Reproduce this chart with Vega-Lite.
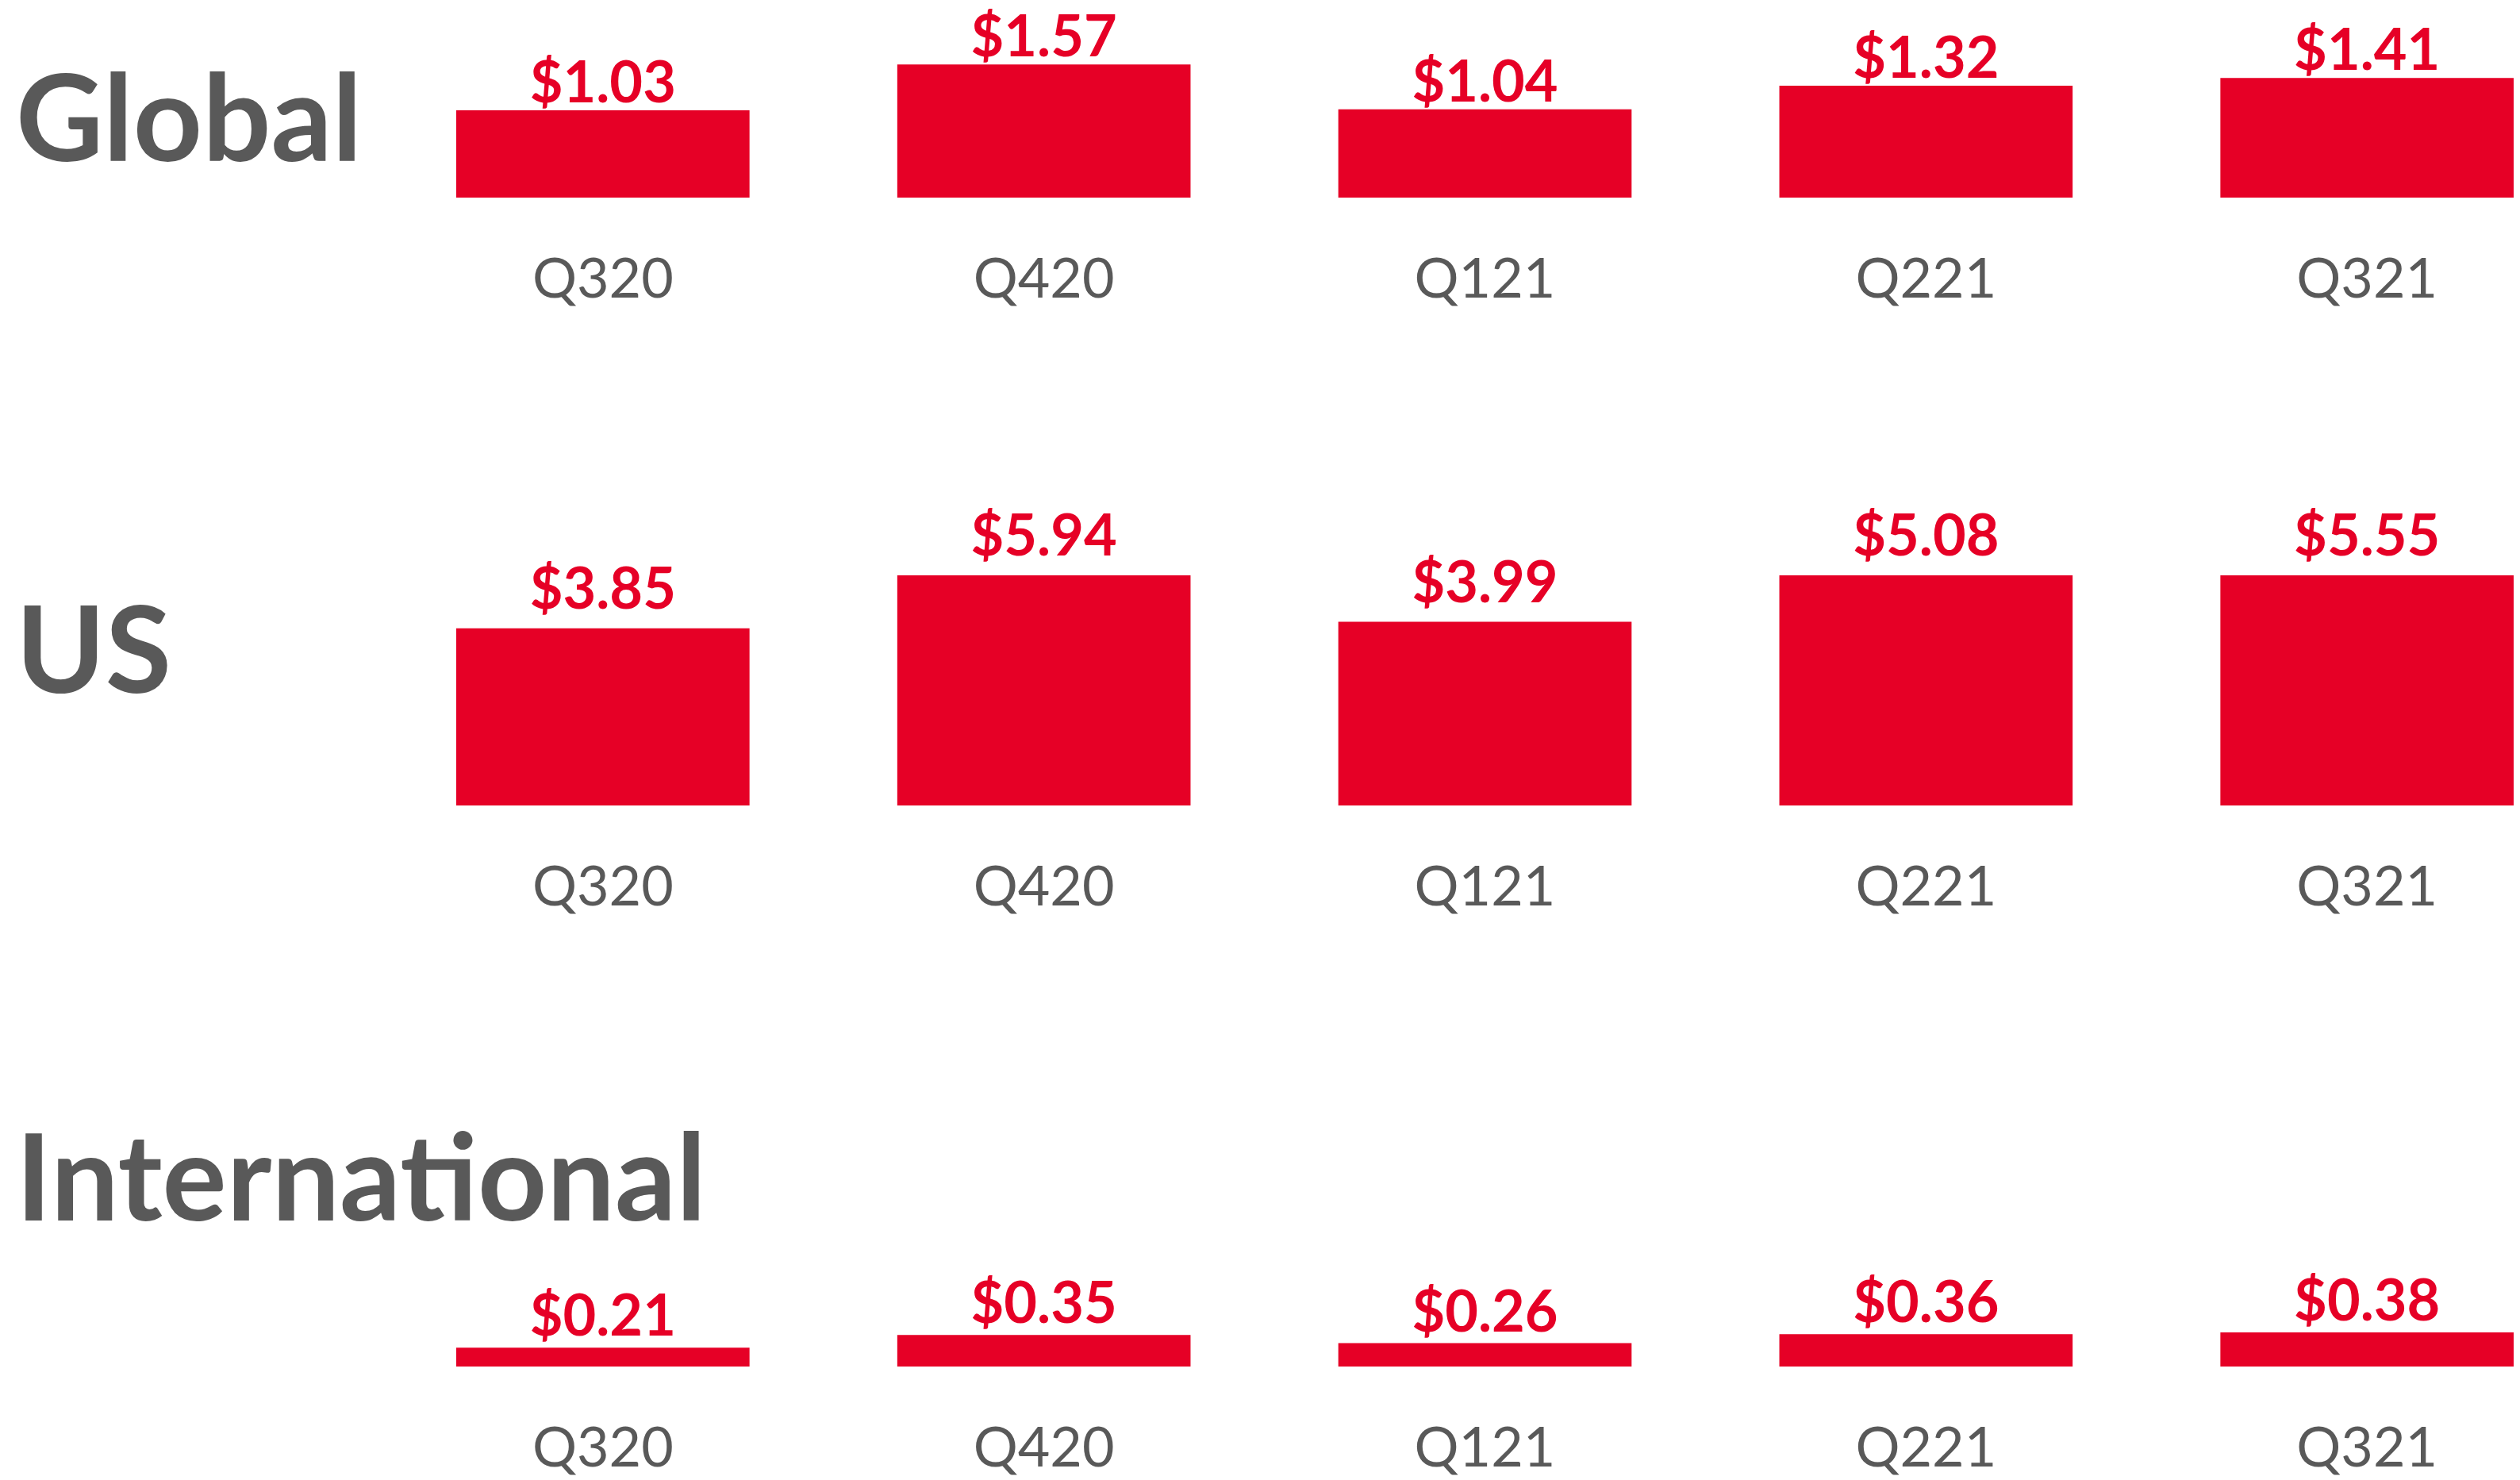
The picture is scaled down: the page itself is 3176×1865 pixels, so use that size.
{
  "$schema": "https://vega.github.io/schema/vega-lite/v6.json",
  "background": "white",
  "padding": {"left": 20, "top": 0, "right": 8, "bottom": 0},
  "bounds": "flush",
  "spacing": 476,
  "config": {
    "view": {"stroke": null},
    "font": "Lato",
    "bar": {"color": "#E60026"},
    "text": {"color": "#E60026", "font": "Lato", "fontWeight": "bold", "fontSize": 72, "baseline": "alphabetic", "align": "center"},
    "axisX": {"domain": false, "ticks": false, "grid": false, "title": null, "labelAngle": 0, "labelFont": "Lato", "labelFontSize": 70, "labelColor": "#595959", "labelPadding": 70},
    "title": {"orient": "top", "anchor": "start", "align": "left", "baseline": "alphabetic", "frame": "group", "offset": 0, "dx": -555, "fontSize": 152, "fontWeight": "bold", "color": "#595959", "font": "Lato"}
  },
  "datasets": {
    "global": [
      {"quarter": "Q320", "value": 1.03},
      {"quarter": "Q420", "value": 1.57},
      {"quarter": "Q121", "value": 1.04},
      {"quarter": "Q221", "value": 1.32},
      {"quarter": "Q321", "value": 1.41}
    ],
    "us": [
      {"quarter": "Q320", "value": 3.85},
      {"quarter": "Q420", "value": 5.94},
      {"quarter": "Q121", "value": 3.99},
      {"quarter": "Q221", "value": 5.08},
      {"quarter": "Q321", "value": 5.55}
    ],
    "intl": [
      {"quarter": "Q320", "value": 0.21},
      {"quarter": "Q420", "value": 0.35},
      {"quarter": "Q121", "value": 0.26},
      {"quarter": "Q221", "value": 0.36},
      {"quarter": "Q321", "value": 0.38}
    ]
  },
  "vconcat": [
    {
      "title": {"text": "Global", "dy": 239},
      "width": 2593,
      "height": 249,
      "data": {"name": "global"},
      "encoding": {
        "x": {"field": "quarter", "type": "nominal", "sort": null, "scale": {"paddingInner": 0.335, "paddingOuter": 0}},
        "y": {"field": "value", "type": "quantitative", "scale": {"domain": [0, 2.33]}, "axis": null}
      },
      "layer": [
        {"mark": {"type": "bar"}},
        {"mark": {"type": "text", "dy": -10}, "encoding": {"text": {"field": "value", "type": "quantitative", "format": "$.2f"}}}
      ]
    },
    {
      "title": {"text": "US", "dy": 267},
      "width": 2593,
      "height": 290,
      "data": {"name": "us"},
      "encoding": {
        "x": {"field": "quarter", "type": "nominal", "sort": null, "scale": {"paddingInner": 0.335, "paddingOuter": 0}},
        "y": {"field": "value", "type": "quantitative", "scale": {"domain": [0, 5], "clamp": true}, "axis": null}
      },
      "layer": [
        {"mark": {"type": "bar"}},
        {"mark": {"type": "text", "dy": -25}, "encoding": {"text": {"field": "value", "type": "quantitative", "format": "$.2f"}}}
      ]
    },
    {
      "title": {"text": "International", "dy": 83},
      "width": 2593,
      "height": 231,
      "data": {"name": "intl"},
      "encoding": {
        "x": {"field": "quarter", "type": "nominal", "sort": null, "scale": {"paddingInner": 0.335, "paddingOuter": 0}},
        "y": {"field": "value", "type": "quantitative", "scale": {"domain": [0, 2.04]}, "axis": null}
      },
      "layer": [
        {"mark": {"type": "bar"}},
        {"mark": {"type": "text", "dy": -15}, "encoding": {"text": {"field": "value", "type": "quantitative", "format": "$.2f"}}}
      ]
    }
  ]
}
